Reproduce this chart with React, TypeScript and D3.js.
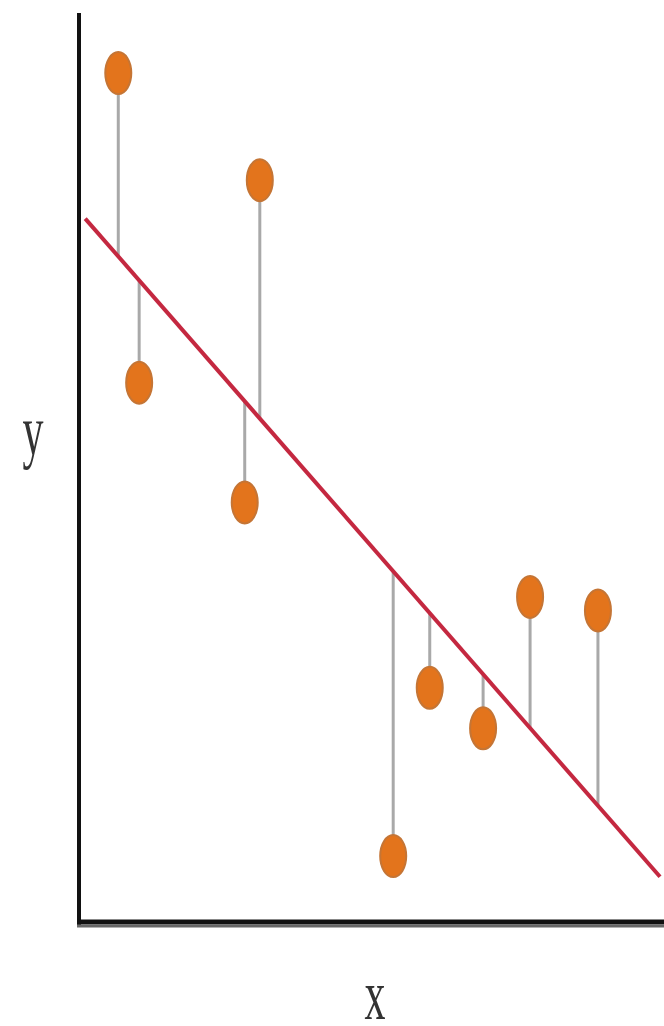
import React from 'react'
import * as d3 from 'd3'

// observed points (x, y) in data units
const pointX = [0.66, 1.02, 3.1, 2.84, 5.4, 6.03, 6.95, 7.76, 8.93]
const pointY = [9.41, 5.97, 8.22, 4.64, 0.71, 2.58, 2.13, 3.59, 3.44]

// fitted regression line y = a + b x
const intercept = 7.86
const slope = -0.738
const lineExtent = [0.09, 10]

const xLabel = 'x'
const yLabel = 'y'

const W = 664
const H = 1026

const App = () => {
  const x = d3.scaleLinear().domain([0, 10]).range([80, 660])
  const y = d3.scaleLinear().domain([0, 10]).range([920, 20])
  const fit = (v: number) => intercept + slope * v

  const linePath = d3.line<number>()
    .x(d => x(d))
    .y(d => y(fit(d)))(lineExtent)

  const points = pointX.map((v, i) => ({x: v, y: pointY[i]}))

  return (
    <svg width={W} height={H} style={{position: 'absolute', left: 0, top: 0, background: '#fff'}}>
      {/* residuals */}
      <g stroke="#a9a9a9" strokeWidth={3}>
        {points.map((p, i) => (
          <line key={i} x1={x(p.x)} x2={x(p.x)} y1={y(p.y)} y2={y(fit(p.x))} />
        ))}
      </g>

      {/* regression line */}
      <path d={linePath ?? ''} fill="none" stroke="#c42840" strokeWidth={4} />

      {/* points */}
      <g>
        {points.map((p, i) => (
          <ellipse key={i} cx={x(p.x)} cy={y(p.y)} rx={13} ry={21}
            fill="#e3741c" stroke="#c57535" strokeWidth={2} />
        ))}
      </g>

      {/* axes */}
      <line x1={79} x2={79} y1={13} y2={925} stroke="#111" strokeWidth={4} />
      <line x1={77} x2={W} y1={922} y2={922} stroke="#111" strokeWidth={5} />
      <line x1={77} x2={W} y1={926} y2={926} stroke="#666" strokeWidth={3} />

      {/* the reference is stretched vertically, so are its labels */}
      <g transform="translate(33,455) scale(1,1.7)">
        <text textAnchor="middle" fontFamily="Liberation Serif, serif"
          fontSize={42} fill="#333">{yLabel}</text>
      </g>
      <g transform="translate(375,1019) scale(1,1.7)">
        <text textAnchor="middle" fontFamily="Liberation Serif, serif"
          fontSize={42} fill="#333">{xLabel}</text>
      </g>
    </svg>
  )
}

export default App
